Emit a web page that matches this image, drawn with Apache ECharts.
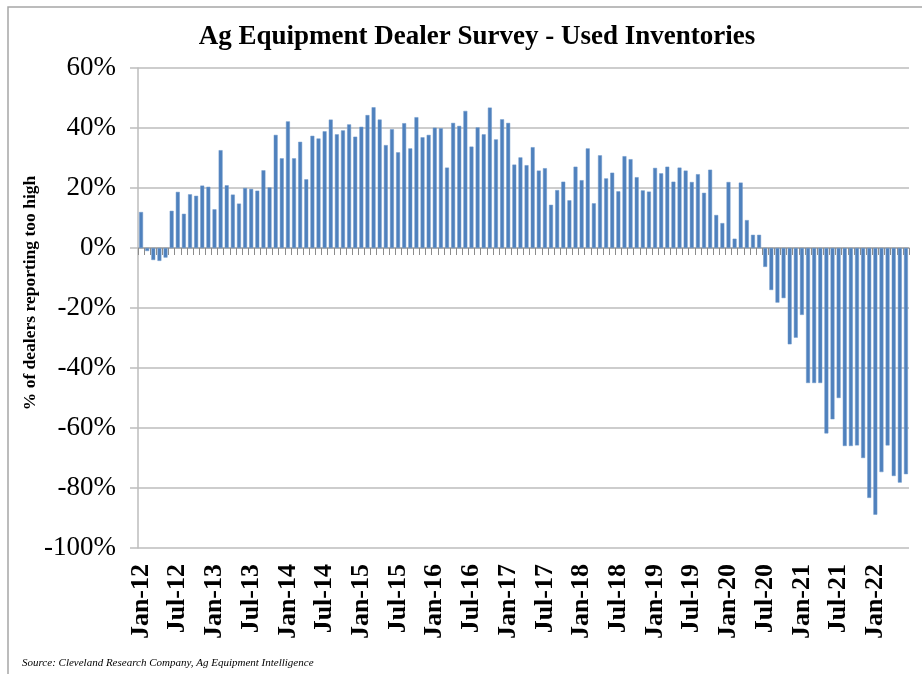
<!DOCTYPE html>
<html>
<head>
<meta charset="utf-8">
<title>Ag Equipment Dealer Survey - Used Inventories</title>
<script src="https://cdn.jsdelivr.net/npm/echarts@6/dist/echarts.min.js"></script>
<style>
  html, body { margin: 0; padding: 0; background: #fff; }
  #chart { width: 922px; height: 674px; }
</style>
</head>
<body>
<div id="chart"></div>
<script>
/*
 * 数据
 */
var monthNames = ['Jan', 'Feb', 'Mar', 'Apr', 'May', 'Jun', 'Jul', 'Aug', 'Sep', 'Oct', 'Nov', 'Dec'];
var years = ['12', '13', '14', '15', '16', '17', '18', '19', '20', '21', '22'];
var lastMonthCount = 6; // 2022 only runs to Jun

// % of dealers reporting used inventories too high, one value per month
var v2012 = [12, -1, -4, -4.3, -3.2, 12.4, 18.7, 11.4, 17.9, 17.4, 20.8, 20.4];
var v2013 = [12.9, 32.6, 20.9, 17.8, 14.8, 20, 19.7, 19.1, 25.9, 20.2, 37.7, 29.9];
var v2014 = [42.2, 29.9, 35.4, 22.9, 37.4, 36.5, 38.9, 42.8, 37.9, 39.2, 41.2, 37.1];
var v2015 = [40.4, 44.3, 46.9, 42.8, 34.3, 39.6, 31.9, 41.6, 33.2, 43.6, 36.9, 37.7];
var v2016 = [40.1, 39.9, 26.8, 41.7, 40.7, 45.7, 33.8, 40.2, 37.9, 46.8, 36.2, 42.9];
var v2017 = [41.7, 27.8, 30.2, 27.6, 33.6, 25.8, 26.6, 14.4, 19.3, 22.1, 15.9, 27.1];
var v2018 = [22.6, 33.2, 14.9, 30.9, 23.2, 25.1, 18.9, 30.6, 29.6, 23.6, 19.2, 18.8];
var v2019 = [26.7, 24.9, 27.1, 22.1, 26.8, 25.8, 22, 24.6, 18.4, 26.1, 11, 8.3];
var v2020 = [22, 3.1, 21.8, 9.3, 4.4, 4.4, -6.3, -14, -18.2, -16.7, -32.1, -29.9];
var v2021 = [-22.3, -45, -45, -45, -61.8, -57.1, -50, -66, -66, -65.8, -70, -83.3];
var v2022 = [-88.9, -74.7, -65.8, -76, -78.2, -75.4];

// y 轴刻度
var yTicks = [-100, -80, -60, -40, -20, 0, 20, 40, 60];

var values = [].concat(v2012, v2013, v2014, v2015, v2016, v2017, v2018, v2019, v2020, v2021, v2022);

var categories = [];
years.forEach(function (yy, i) {
  var n = i === years.length - 1 ? lastMonthCount : 12;
  for (var m = 0; m < n; m++) {
    categories.push(monthNames[m] + '-' + yy);
  }
});

var serif = "'Liberation Serif', 'Times New Roman', Times, serif";
var gridColor = '#bdbdbd';

/*
 * 初始化echarts
 */
function initECharts(el, options) {
  var myEchart = echarts.init(el, null, { renderer: 'canvas' });
  myEchart.setOption(options);
  return myEchart;
}

var options = {
  animation: false,
  backgroundColor: '#fff',
  title: {
    text: 'Ag Equipment Dealer Survey - Used Inventories',
    left: 472,
    textAlign: 'center',
    top: 19,
    textStyle: { fontFamily: serif, fontWeight: 'bold', fontSize: 27, color: '#000' }
  },
  grid: { left: 138, right: 13, top: 68, bottom: 126, containLabel: false },
  xAxis: [
    {
      // 底部标签
      type: 'category',
      data: categories,
      position: 'bottom',
      axisLine: { show: false, onZero: false },
      axisTick: { show: false },
      axisLabel: {
        interval: 5,
        rotate: 90,
        margin: 16,
        fontFamily: serif,
        fontWeight: 'bold',
        fontSize: 26,
        color: '#000'
      },
      splitLine: { show: false }
    },
    {
      // 零线和刻度
      type: 'category',
      data: categories,
      position: 'bottom',
      axisLine: { show: true, onZero: true, lineStyle: { color: '#a6a6a6', width: 1.5 } },
      axisTick: { show: true, interval: 0, length: 7, lineStyle: { color: '#8c8c8c', width: 1 } },
      axisLabel: { show: false },
      splitLine: { show: false }
    }
  ],
  yAxis: {
    type: 'value',
    min: yTicks[0],
    max: yTicks[yTicks.length - 1],
    interval: 20,
    axisLine: { show: true, lineStyle: { color: gridColor, width: 1.5 } },
    axisTick: { show: true, length: 8, lineStyle: { color: gridColor, width: 1.5 } },
    axisLabel: {
      margin: 22,
      fontFamily: serif,
      fontSize: 27,
      color: '#000',
      formatter: function (v) { return v + '%'; }
    },
    splitLine: { show: true, lineStyle: { color: gridColor, width: 1.5 } }
  },
  series: [
    {
      type: 'bar',
      xAxisIndex: 0,
      data: values,
      barWidth: '64%',
      itemStyle: { color: '#4f81bd', borderColor: '#6f98cb', borderWidth: 0.5 }
    }
  ],
  graphic: [
    {
      type: 'rect',
      shape: { x: 8, y: 7, width: 940, height: 700 },
      style: { fill: null, stroke: '#a6a6a6', lineWidth: 1.5 },
      silent: true
    },
    {
      type: 'text',
      x: 30,
      y: 293,
      rotation: Math.PI / 2,
      style: {
        text: '% of dealers reporting too high',
        fontFamily: serif,
        fontWeight: 'bold',
        fontSize: 17.5,
        fill: '#000',
        textAlign: 'center',
        textVerticalAlign: 'middle'
      }
    },
    {
      type: 'text',
      x: 22,
      y: 663,
      style: {
        text: 'Source: Cleveland Research Company, Ag Equipment Intelligence',
        fontFamily: serif,
        fontStyle: 'italic',
        fontSize: 11,
        fill: '#000',
        textAlign: 'left',
        textVerticalAlign: 'middle'
      }
    }
  ]
};

initECharts(document.getElementById('chart'), options);
</script>
</body>
</html>
